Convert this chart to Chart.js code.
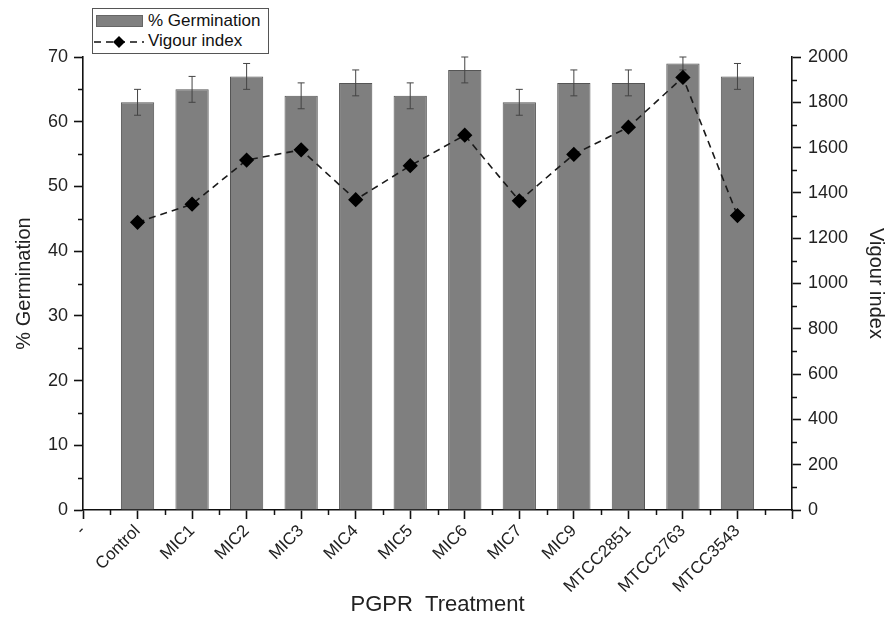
<!DOCTYPE html>
<html>
<head>
<meta charset="utf-8">
<script src="https://cdn.jsdelivr.net/npm/chart.js@4.4.1/dist/chart.umd.min.js"></script>
<style>
  body { margin:0; background:#fff; }
  #wrap { position:relative; width:891px; height:618px; }
  #legend {
    position:absolute; left:92px; top:8px; width:175px; height:44px;
    border:1px solid #555; background:#fff;
    font-family:"Liberation Sans", Arial, sans-serif; font-size:17px; color:#111;
  }
  #legend .row { position:absolute; left:0; height:20px; line-height:20px; }
  #legend .sw { position:absolute; left:3px; top:4px; width:45px; height:10px; background:#808080; border:1px solid #666; }
  #legend svg { position:absolute; left:0; top:0; }
  #legend .txt { position:absolute; left:55px; top:0; white-space:nowrap; }
</style>
</head>
<body>
<div id="wrap">
  <canvas id="c"></canvas>
  <div id="legend">
    <div class="row" style="top:2px"><span class="sw"></span><span class="txt">% Germination</span></div>
    <div class="row" style="top:22px">
      <svg width="52" height="20"><line x1="1" y1="11" x2="51" y2="11" stroke="#111" stroke-width="1.6" stroke-dasharray="7,5"/><polygon points="26,5 32,11 26,17 20,11" fill="#000"/></svg>
      <span class="txt">Vigour index</span>
    </div>
  </div>
</div>
<script>
// valeurs
const treatments = ['Control','MIC1','MIC2','MIC3','MIC4','MIC5','MIC6','MIC7','MIC9','MTCC2851','MTCC2763','MTCC3543'];
const germination = [63, 65, 67, 64, 66, 64, 68, 63, 66, 66, 69, 67];
const germErr = [2, 2, 2, 2, 2, 2, 2, 2, 2, 2, 1, 2];
const vigour = [1270, 1350, 1545, 1590, 1370, 1520, 1655, 1365, 1570, 1690, 1910, 1300];

// axe x : une case vide de chaque côté
const xLabels = ['-', ...treatments, ''];
const pad = arr => [null, ...arr, null];

const FONT = '"Liberation Sans", Arial, sans-serif';
const AX = '#111';

// barres d'erreur + petites graduations
const extras = {
  id: 'extras',
  afterDatasetDraw(chart, args) {
    if (args.index !== 0) return;
    const ctx = chart.ctx, x = chart.scales.x, y = chart.scales.y;
    ctx.save();
    ctx.strokeStyle = '#444';
    ctx.lineWidth = 1;
    germination.forEach((v, i) => {
      const px = x.getPixelForValue(i + 1);
      const top = y.getPixelForValue(v + germErr[i]);
      const bot = y.getPixelForValue(v - germErr[i]);
      ctx.beginPath();
      ctx.moveTo(px, top); ctx.lineTo(px, bot);
      ctx.moveTo(px - 3.5, top); ctx.lineTo(px + 3.5, top);
      ctx.moveTo(px - 3.5, bot); ctx.lineTo(px + 3.5, bot);
      ctx.stroke();
    });
    ctx.restore();
  },
  afterDraw(chart) {
    const ctx = chart.ctx, a = chart.chartArea;
    const {x, y, y1} = chart.scales;
    ctx.save();
    ctx.strokeStyle = AX;
    ctx.lineWidth = 1.5;
    ctx.beginPath();
    for (let v = 5; v < 70; v += 10) {
      const p = Math.round(y.getPixelForValue(v)) + 0.5;
      ctx.moveTo(a.left - 5, p); ctx.lineTo(a.left, p);
    }
    for (let v = 100; v < 2000; v += 200) {
      const p = Math.round(y1.getPixelForValue(v)) + 0.5;
      ctx.moveTo(a.right, p); ctx.lineTo(a.right + 5, p);
    }
    for (let i = 0.5; i < xLabels.length - 1; i += 1) {
      const p = Math.round(x.getPixelForValue(i)) + 0.5;
      ctx.moveTo(p, a.bottom); ctx.lineTo(p, a.bottom + 5);
    }
    ctx.stroke();
    ctx.restore();
  }
};

const axisGrid = { drawOnChartArea:false, drawTicks:true, tickLength:9, tickColor:AX, tickWidth:1.6 };
const tickFont = { family:FONT, size:18 };

new Chart(document.getElementById('c'), {
  type: 'bar',
  data: {
    labels: xLabels,
    datasets: [
      {
        type: 'bar', label: '% Germination', data: pad(germination), yAxisID: 'y',
        backgroundColor: '#7f7f7f', borderColor: '#555', borderWidth: 1,
        categoryPercentage: 1, barPercentage: 0.61, order: 2
      },
      {
        type: 'line', label: 'Vigour index', data: pad(vigour), yAxisID: 'y1',
        borderColor: '#1a1a1a', borderWidth: 1.6, borderDash: [7, 5], tension: 0,
        pointStyle: 'rectRot', pointRadius: 6.5, pointBackgroundColor: '#000', pointBorderColor: '#000',
        spanGaps: false, order: 1
      }
    ]
  },
  options: {
    responsive: true, maintainAspectRatio: false, animation: false,
    layout: { padding: { top: 57, left: 0, right: 0, bottom: 0 } },
    plugins: { legend: { display:false }, tooltip: { enabled:false } },
    scales: {
      x: {
        offset: false,
        grid: { ...axisGrid, offset:false },
        border: { color:AX, width:1.6 },
        ticks: { autoSkip:false, minRotation:45, maxRotation:45, color:'#222', font:{ family:FONT, size:17 }, padding:2 },
        title: { display:true, text:'PGPR  Treatment', color:'#222', font:{ family:FONT, size:22 }, padding:{ top:0, bottom:0 } },
        afterFit: s => { s.height = 108; }
      },
      y: {
        position: 'left', min: 0, max: 70,
        grid: axisGrid,
        border: { color:AX, width:1.6 },
        ticks: { stepSize:10, color:'#222', font:tickFont, padding:6 },
        title: { display:true, text:'% Germination', color:'#222', font:{ family:FONT, size:20 }, padding:{ top:12, bottom:0 } },
        afterFit: s => { s.width = 83; }
      },
      y1: {
        position: 'right', min: 0, max: 2000,
        grid: axisGrid,
        border: { color:AX, width:1.6 },
        ticks: { stepSize:200, color:'#222', font:tickFont, padding:7, callback: v => String(v) },
        title: { display:true, text:'Vigour index', color:'#222', font:{ family:FONT, size:20 }, padding:{ top:3, bottom:0 } },
        afterFit: s => { s.width = 99; }
      }
    }
  },
  plugins: [extras]
});
</script>
</body>
</html>
